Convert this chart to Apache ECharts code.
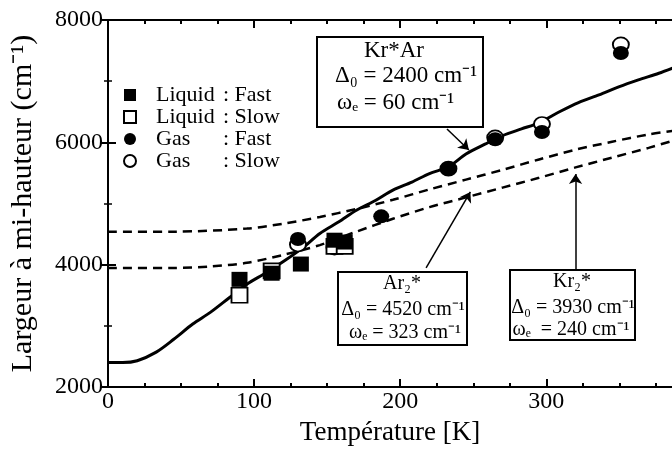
<!DOCTYPE html>
<html>
<head>
<meta charset="utf-8">
<script src="https://cdn.jsdelivr.net/npm/echarts@6/dist/echarts.min.js"></script>
<style>
  html, body { margin: 0; padding: 0; background: #fff; }
  #main { width: 672px; height: 454px; }
</style>
</head>
<body>
<div id="main"></div>
<script>
// Kr*Ar fit (solid line)
var krArT = [0, 10, 20, 33, 45, 58, 70, 83, 95, 108, 120, 133, 145, 158, 170, 183, 195, 208, 220, 233, 245, 258, 270, 283, 295, 309, 322, 336, 350, 363, 377, 387];
var krArW = [2400, 2400, 2430, 2570, 2780, 3030, 3220, 3460, 3680, 3865, 4050, 4270, 4510, 4700, 4890, 5050, 5220, 5350, 5490, 5600, 5810, 5970, 6110, 6220, 6320, 6500, 6650, 6775, 6910, 7020, 7130, 7220];
// Ar2* fit (upper dashed)
var ar2T = [0, 45, 95, 120, 145, 170, 195, 220, 245, 270, 295, 320, 345, 370, 387];
var ar2W = [4540, 4540, 4590, 4670, 4780, 4910, 5060, 5230, 5390, 5550, 5720, 5880, 6010, 6130, 6190];
// Kr2* fit (lower dashed)
var kr2T = [0, 45, 70, 95, 120, 145, 170, 195, 220, 245, 270, 295, 320, 345, 370, 387];
var kr2W = [3946, 3946, 3970, 4030, 4160, 4320, 4540, 4750, 4940, 5100, 5260, 5420, 5590, 5750, 5910, 6030];

// mesures
var liqFastT = [90, 112, 132, 155, 162];
var liqFastW = [3760, 3860, 4010, 4400, 4370];
var liqSlowT = [90, 112, 155, 162];
var liqSlowW = [3500, 3900, 4300, 4300];
var gasFastT = [130, 187, 233, 265, 297, 351];
var gasFastW = [4420, 4790, 5570, 6050, 6170, 7460];
var gasSlowT = [130, 155, 233, 265, 297, 351];
var gasSlowW = [4330, 4280, 5570, 6080, 6300, 7600];

var xMajorTicks = [0, 100, 200, 300];
var xMinorTicks = [25, 50, 75, 125, 150, 175, 225, 250, 275, 325, 350, 375];

function pairs(xs, ys) {
    var out = [];
    for (var i = 0; i < xs.length; i++) out.push([xs[i], ys[i]]);
    return out;
}

var serif = '"Liberation Serif", "Times New Roman", serif';
var black = '#000';

function xAx(pos, ticks, len, showLine, showLabel) {
    return {
        type: 'value', position: pos, min: 0, max: 386, interval: 100,
        axisLine: { show: showLine, lineStyle: { color: black, width: 2 } },
        axisTick: { show: true, inside: true, length: len, customValues: ticks, lineStyle: { color: black, width: 2 } },
        axisLabel: { show: showLabel, customValues: xMajorTicks, color: black, fontFamily: serif, fontSize: 24, margin: 3,
                     formatter: function (v) { return String(v); } },
        splitLine: { show: false }
    };
}

var bottomAxis = xAx('bottom', xMajorTicks, 8, true, true);
bottomAxis.name = 'Température [K]';
bottomAxis.nameLocation = 'middle';
bottomAxis.nameGap = 32;
bottomAxis.nameTextStyle = { color: black, fontFamily: serif, fontSize: 27 };

function yAx(pos, showLabel) {
    return {
        type: 'value', position: pos, min: 2000, max: 8000, interval: 2000,
        axisLine: { show: true, lineStyle: { color: black, width: 2 } },
        axisTick: { show: true, inside: true, length: 8, lineStyle: { color: black, width: 2 } },
        minorTick: { show: true, splitNumber: 2, length: 4, lineStyle: { color: black, width: 1.5 } },
        axisLabel: { show: showLabel, color: black, fontFamily: serif, fontSize: 24, margin: 5,
                     formatter: function (v) { return String(v); } },
        splitLine: { show: false },
        minorSplitLine: { show: false }
    };
}
var leftAxis = yAx('left', true);
leftAxis.name = 'Largeur à mi-hauteur (cm⁻¹)';
leftAxis.nameLocation = 'middle';
leftAxis.nameGap = 70;
leftAxis.nameTextStyle = { color: black, fontFamily: serif, fontSize: 30 };

function box(x, y, w, h, lines, size) {
    var children = [{
        type: 'rect', shape: { x: x, y: y, width: w, height: h },
        style: { fill: '#fff', stroke: black, lineWidth: 2 }
    }];
    lines.forEach(function (l) {
        children.push({
            type: 'text',
            style: { text: l[0], x: l[1], y: l[2], textAlign: l[3] || 'center', textVerticalAlign: 'middle',
                     font: size + 'px ' + serif, fill: black }
        });
    });
    return { type: 'group', z: 100, children: children };
}

var option = {
    backgroundColor: '#fff',
    animation: false,
    grid: { left: 106, right: -3, top: 20, bottom: 67 },
    xAxis: [
        bottomAxis,
        xAx('top', xMajorTicks, 8, true, false),
        xAx('bottom', xMinorTicks, 4, false, false),
        xAx('top', xMinorTicks, 4, false, false)
    ],
    yAxis: [leftAxis, yAx('right', false)],
    legend: {
        orient: 'vertical', left: 118, top: 79,
        itemWidth: 12, itemHeight: 12, itemGap: 0,
        data: ['Liquid : Fast', 'Liquid : Slow', 'Gas : Fast', 'Gas : Slow'],
        formatter: function (name) {
            var p = name.split(' : ');
            return '{a|' + p[0] + '}{b|: ' + p[1] + '}';
        },
        textStyle: {
            color: black, fontFamily: serif, fontSize: 22, lineHeight: 20,
            rich: {
                a: { width: 67, padding: [0, 0, 0, 15], fontFamily: serif, fontSize: 22, lineHeight: 20, color: black },
                b: { fontFamily: serif, fontSize: 22, lineHeight: 20, color: black }
            }
        }
    },
    series: [
        {
            name: 'Kr*Ar', type: 'line', data: pairs(krArT, krArW), showSymbol: false, smooth: 0.3, z: 2,
            lineStyle: { color: black, width: 3 },
            markLine: {
                silent: true, symbol: ['none', 'arrow'], symbolSize: 10,
                label: { show: false },
                lineStyle: { color: black, width: 1.5, type: 'solid' },
                data: [
                    [{ coord: [232, 6219] }, { coord: [247, 5876] }],
                    [{ coord: [217.7, 3948] }, { coord: [248, 5190] }],
                    [{ coord: [320, 3915] }, { coord: [320, 5484] }]
                ]
            }
        },
        {
            name: 'Ar2*', type: 'line', data: pairs(ar2T, ar2W), showSymbol: false, smooth: 0.3, z: 2,
            lineStyle: { color: black, width: 2.5, type: [9, 6] }
        },
        {
            name: 'Kr2*', type: 'line', data: pairs(kr2T, kr2W), showSymbol: false, smooth: 0.3, z: 2,
            lineStyle: { color: black, width: 2.5, type: [9, 6] }
        },
        {
            name: 'Gas : Slow', type: 'scatter', data: pairs(gasSlowT, gasSlowW), z: 3,
            symbol: 'circle', symbolSize: [16, 14],
            itemStyle: { color: '#fff', borderColor: black, borderWidth: 1.8, opacity: 1 }
        },
        {
            name: 'Liquid : Slow', type: 'scatter', data: pairs(liqSlowT, liqSlowW), z: 4,
            symbol: 'rect', symbolSize: [16, 15],
            itemStyle: { color: '#fff', borderColor: black, borderWidth: 1.8, opacity: 1 }
        },
        {
            name: 'Liquid : Fast', type: 'scatter', data: pairs(liqFastT, liqFastW), z: 5,
            symbol: 'rect', symbolSize: [16, 15],
            itemStyle: { color: black, opacity: 1 }
        },
        {
            name: 'Gas : Fast', type: 'scatter', data: pairs(gasFastT, gasFastW), z: 6,
            symbol: 'circle', symbolSize: [16, 14],
            itemStyle: { color: black, opacity: 1 }
        }
    ],
    graphic: [
        box(317, 37, 166, 90, [
            ['Kr*Ar', 394, 51],
            ['Δ₀ = 2400 cm⁻¹', 335, 76, 'left'],
            ['ωₑ = 60 cm⁻¹', 337, 103, 'left']
        ], 23),
        box(338, 272, 129, 73, [
            ['Ar₂*', 402, 284],
            ['Δ₀ = 4520 cm⁻¹', 403, 310],
            ['ωₑ = 323 cm⁻¹', 405, 333]
        ], 20),
        box(510, 270, 125, 70, [
            ['Kr₂*', 572, 282],
            ['Δ₀ = 3930 cm⁻¹', 573, 308],
            ['ωₑ  = 240 cm⁻¹', 571, 330]
        ], 20)
    ]
};

var chart = echarts.init(document.getElementById('main'));
chart.setOption(option);
</script>
</body>
</html>
